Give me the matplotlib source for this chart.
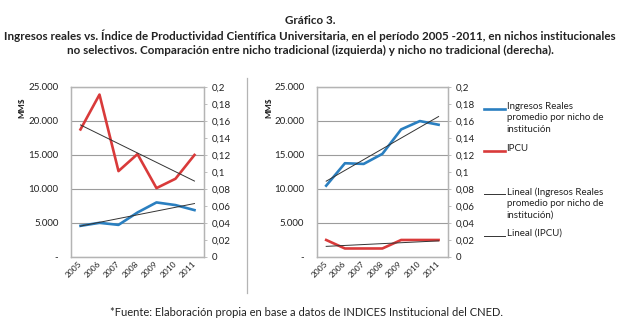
import numpy as np
import matplotlib
matplotlib.use('Agg')
import matplotlib.pyplot as plt
from matplotlib.lines import Line2D
from matplotlib.ticker import FuncFormatter, MultipleLocator

plt.rcParams['font.family'] = ['Lato', 'DejaVu Sans']

years = ['2005', '2006', '2007', '2008', '2009', '2010', '2011']

# nicho tradicional (izquierda)
ingresos_trad = [4580, 5020, 4720, 6540, 8020, 7630, 6890]
ipcu_trad = [0.150, 0.191, 0.101, 0.121, 0.081, 0.092, 0.120]

# nicho no tradicional (derecha)
ingresos_notrad = [10480, 13780, 13680, 15160, 18750, 19980, 19440]
ipcu_notrad = [0.020, 0.010, 0.010, 0.010, 0.020, 0.020, 0.020]

BLUE = '#2a7fc0'
RED = '#d93a3a'
TREND = '#333333'
FRAME = '#b4b4b4'
GRID = '#9c9c9c'
TEXT = '#222222'

legend_labels = ['Ingresos Reales\npromedio por nicho de\ninstitución',
                 'IPCU',
                 'Lineal (Ingresos Reales\npromedio por nicho de\ninstitución)',
                 'Lineal (IPCU)']


def miles(v, pos):
    if v == 0:
        return '-'
    return f'{int(v):,}'.replace(',', '.')


def decimal(v, pos):
    s = f'{v:.2f}'.rstrip('0').rstrip('.')
    return s.replace('.', ',')


def trend(y):
    x = np.arange(len(y))
    m, b = np.polyfit(x, y, 1)
    return m * x + b


def panel(rect, ingresos, ipcu):
    ax = fig.add_axes(rect)
    ax2 = ax.twinx()
    x = np.arange(len(years))

    ax.plot(x, ingresos, color=BLUE, lw=1.9, zorder=3)
    ax.plot(x, trend(ingresos), color=TREND, lw=0.7, zorder=4)
    ax2.plot(x, ipcu, color=RED, lw=1.9, zorder=3)
    ax2.plot(x, trend(ipcu), color=TREND, lw=0.7, zorder=4)

    ax.set_xlim(-0.5, len(years) - 0.5)
    ax.set_ylim(0, 25000)
    ax2.set_ylim(0, 0.2)
    ax.yaxis.set_major_locator(MultipleLocator(5000))
    ax2.yaxis.set_major_locator(MultipleLocator(0.02))
    ax.yaxis.set_major_formatter(FuncFormatter(miles))
    ax2.yaxis.set_major_formatter(FuncFormatter(decimal))
    ax.grid(axis='y', color=GRID, lw=0.8)
    ax.set_axisbelow(True)

    ax.set_xticks(x)
    ax.set_xticklabels(years, rotation=45, ha='right', va='center',
                       rotation_mode='anchor', fontsize=6, color=TEXT)
    ax.tick_params(axis='x', length=0, pad=4)
    ax.tick_params(axis='y', length=0, pad=9, labelsize=7, labelcolor=TEXT)
    ax2.tick_params(axis='y', length=2.5, width=0.6, color=FRAME, pad=3,
                    labelsize=7, labelcolor=TEXT)

    for a in (ax, ax2):
        for sp in a.spines.values():
            sp.set_color(FRAME)
            sp.set_linewidth(0.9)

    ax.set_ylabel('MM$', fontsize=6, fontweight='bold', color=TEXT)
    ax.yaxis.set_label_coords(-0.34, 0.88)
    return ax, ax2


fig = plt.figure(figsize=(6.2, 3.28), dpi=100)

panel([0.1145, 0.2165, 0.2145, 0.5185], ingresos_trad, ipcu_trad)
panel([0.511, 0.2165, 0.2115, 0.5185], ingresos_notrad, ipcu_notrad)

# separador entre los dos gráficos
fig.add_artist(Line2D([0.398, 0.398], [0.107, 0.762], color=FRAME, lw=0.9))

# leyenda
leg_styles = [(BLUE, 1.9), (RED, 1.9), (TREND, 0.7), (TREND, 0.7)]
leg_y = [0.668, 0.540, 0.408, 0.280]
for (c, w), yy, lab in zip(leg_styles, leg_y, legend_labels):
    fig.add_artist(Line2D([0.781, 0.815], [yy, yy], color=c, lw=w))
    fig.text(0.817, yy + 0.022, lab, fontsize=7, color=TEXT, va='top',
             linespacing=1.35)

fig.text(0.5, 0.939, 'Gráfico 3.', ha='center', va='center',
         fontsize=8.4, fontweight='bold', color=TEXT)
fig.text(0.5, 0.890,
         'Ingresos reales vs. Índice de Productividad Científica Universitaria, '
         'en el período 2005 -2011, en nichos institucionales',
         ha='center', va='center', fontsize=8.4, fontweight='bold', color=TEXT)
fig.text(0.5, 0.845,
         'no selectivos. Comparación entre nicho tradicional (izquierda) '
         'y nicho no tradicional (derecha).',
         ha='center', va='center', fontsize=8.4, fontweight='bold', color=TEXT)
fig.text(0.494, 0.046,
         '*Fuente: Elaboración propia en base a datos de INDICES Institucional del CNED.',
         ha='center', va='center', fontsize=8, color=TEXT)

fig.savefig('out.png', dpi=100)
